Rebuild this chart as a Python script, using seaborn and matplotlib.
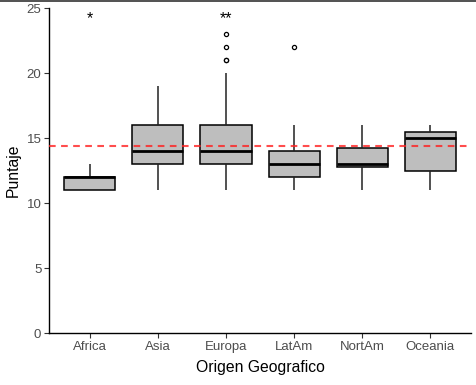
import pandas as pd
import matplotlib
matplotlib.use("Agg")
import matplotlib.pyplot as plt
from matplotlib.lines import Line2D
import seaborn as sns

# Puntajes por origen geografico
africa = [11, 11, 11, 12, 12, 12, 12, 13]
asia = [11, 12, 13, 13, 14, 14, 15, 16, 16, 17, 19]
europa = [11, 12, 12, 13, 13, 13, 13, 14, 14, 14, 14, 14, 14,
          15, 15, 16, 16, 16, 16, 17, 20, 21, 21, 22, 23]
latam = [11, 12, 12, 13, 13, 14, 14, 16, 22]
nortam = [11, 12, 13, 13, 13, 14, 15, 16]
oceania = [11, 12, 13, 15, 15, 16, 16]

regiones = ["Africa", "Asia", "Europa", "LatAm", "NortAm", "Oceania"]
grupos = [africa, asia, europa, latam, nortam, oceania]
media_global = 14.4
signif = {"Africa": "*", "Europa": "**"}

rows = []
for reg, vals in zip(regiones, grupos):
    for v in vals:
        rows.append({"Origen": reg, "Puntaje": v})
df = pd.DataFrame(rows)

sns.set_style("white")
plt.rcParams["font.family"] = ["Liberation Sans", "DejaVu Sans"]

fig = plt.figure(figsize=(4.77, 3.85), dpi=100)
ax = fig.add_axes([0.1027, 0.135, 0.885, 0.844])

sns.boxplot(data=df, x="Origen", y="Puntaje", order=regiones, ax=ax,
            color="#bebebe", saturation=1, width=0.75, linecolor="black",
            linewidth=1.1,
            boxprops=dict(facecolor="#bebebe", edgecolor="black", linewidth=1.1),
            whiskerprops=dict(color="#222222", linewidth=1.1),
            capprops=dict(linewidth=0),
            medianprops=dict(color="black", linewidth=2.0),
            flierprops=dict(marker="o", markersize=3, markerfacecolor="white",
                            markeredgecolor="black", markeredgewidth=0.9))

ax.axhline(media_global, color="#ff2020", alpha=0.8, lw=1.5,
           linestyle=(0, (3.2, 2.6)), zorder=5)

for i, reg in enumerate(regiones):
    if reg in signif:
        ax.text(i, 24.2, signif[reg], ha="center", va="center",
                fontsize=11.5, color="black")

ax.set_ylim(0, 25)
ax.set_xlim(-0.6, 5.6)
ax.set_yticks([0, 5, 10, 15, 20, 25])
ax.set_xlabel("Origen Geografico", fontsize=11.3, color="black", labelpad=5)
ax.set_ylabel("Puntaje", fontsize=11.3, color="black", labelpad=4)
ax.tick_params(axis="both", labelsize=9.5, labelcolor="#4d4d4d",
               color="#333333", length=3.5, width=0.8, pad=2, bottom=True, left=True)

sns.despine(ax=ax)
for s in ["left", "bottom"]:
    ax.spines[s].set_color("black")
    ax.spines[s].set_linewidth(1.0)

# linea superior del recorte
fig.add_artist(Line2D([0, 1], [0.9985, 0.9985], transform=fig.transFigure,
                      color="#333333", lw=1.2))

fig.savefig("out.png", dpi=100)
